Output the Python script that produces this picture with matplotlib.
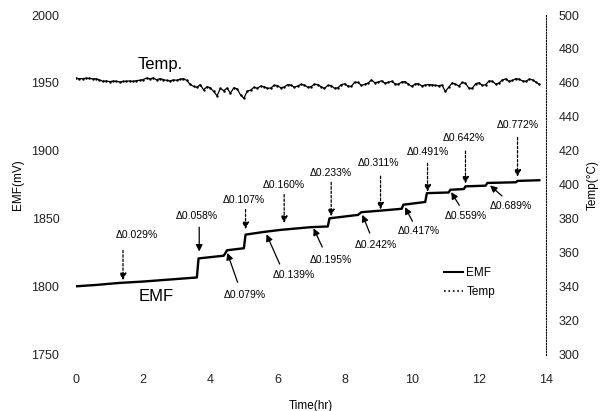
import matplotlib
matplotlib.use("Agg")
import matplotlib.pyplot as plt
from matplotlib.lines import Line2D

plt.rcParams["font.family"] = ["Liberation Sans", "DejaVu Sans"]

# EMF trace (mV); repeated-looking times give the jumps after each addition
emf_time = [0.0, 0.6, 1.3, 2.0, 2.8, 3.6, 3.65, 4.4, 4.5, 5.0, 5.05, 5.6,
            6.1, 7.0, 7.5, 7.55, 8.4, 8.5, 9.0, 9.7, 9.75, 10.4, 10.45,
            11.1, 11.15, 11.55, 11.6, 12.2, 12.25, 13.1, 13.15, 13.8]
emf_mv = [1800.5, 1801.5, 1803, 1804, 1805.5, 1807, 1821, 1823, 1827,
          1828.5, 1838.5, 1840.5, 1842, 1844, 1844.5, 1850.5, 1853, 1855,
          1856, 1857.5, 1860.5, 1862.5, 1869, 1869.5, 1871.5, 1872, 1874,
          1874.5, 1876.5, 1877, 1878, 1878.5]

# temperature trace (deg C), read every 0.1 hr
temp_time = [0.0, 0.1, 0.2, 0.3, 0.4, 0.5, 0.6, 0.7, 0.8, 0.9, 1.0, 1.1,
             1.2, 1.3, 1.4, 1.5, 1.6, 1.7, 1.8, 1.9, 2.0, 2.1, 2.2, 2.3,
             2.4, 2.5, 2.6, 2.7, 2.8, 2.9, 3.0, 3.1, 3.2, 3.3, 3.4, 3.5,
             3.6, 3.7, 3.8, 3.9, 4.0, 4.1, 4.2, 4.3, 4.4, 4.5, 4.6, 4.7,
             4.8, 4.9, 5.0, 5.1, 5.2, 5.3, 5.4, 5.5, 5.6, 5.7, 5.8, 5.9,
             6.0, 6.1, 6.2, 6.3, 6.4, 6.5, 6.6, 6.7, 6.8, 6.9, 7.0, 7.1,
             7.2, 7.3, 7.4, 7.5, 7.6, 7.7, 7.8, 7.9, 8.0, 8.1, 8.2, 8.3,
             8.4, 8.5, 8.6, 8.7, 8.8, 8.9, 9.0, 9.1, 9.2, 9.3, 9.4, 9.5,
             9.6, 9.7, 9.8, 9.9, 10.0, 10.1, 10.2, 10.3, 10.4, 10.5, 10.6,
             10.7, 10.8, 10.9, 11.0, 11.1, 11.2, 11.3, 11.4, 11.5, 11.6,
             11.7, 11.8, 11.9, 12.0, 12.1, 12.2, 12.3, 12.4, 12.5, 12.6,
             12.7, 12.8, 12.9, 13.0, 13.1, 13.2, 13.3, 13.4, 13.5, 13.6,
             13.7, 13.8]
temp_c = [462.8, 462.5, 462.6, 462.8, 462.7, 462.4, 462.5, 461.8, 461.0,
          461.2, 460.8, 461.1, 461.0, 460.6, 460.9, 461.0, 461.2, 460.9,
          461.4, 461.6, 462.0, 462.9, 462.4, 463.0, 461.8, 462.6, 462.0,
          461.5, 461.2, 461.8, 461.6, 462.2, 462.6, 461.5, 459.2, 458.0,
          457.5, 459.0, 456.0, 457.8, 457.2, 455.0, 452.5, 456.8, 455.5,
          457.0, 454.0, 457.2, 456.5, 453.0, 451.0, 455.2, 455.8, 457.5,
          456.9, 458.2, 457.8, 456.9, 457.0, 458.6, 458.5, 457.2, 457.6,
          459.0, 458.9, 457.5, 458.2, 459.2, 458.8, 457.6, 457.8, 459.3,
          459.0, 457.8, 456.8, 458.6, 458.5, 456.9, 457.2, 459.0, 459.5,
          458.2, 458.0, 460.5, 460.3, 458.6, 459.2, 460.0, 461.8, 460.2,
          460.5, 461.3, 459.9, 460.4, 461.0, 459.5, 459.2, 460.6, 460.8,
          459.3, 458.0, 459.4, 459.6, 458.3, 458.8, 459.1, 458.9, 458.6,
          458.4, 458.8, 455.0, 457.5, 460.0, 459.4, 458.2, 460.3, 459.8,
          457.0, 456.8, 459.5, 460.2, 458.6, 459.0, 461.2, 461.0, 459.4,
          460.0, 461.8, 462.4, 460.9, 461.5, 462.6, 462.2, 461.2, 461.0,
          462.3, 461.8, 460.5, 459.2]

# additions marked from above: label, arrow x, label pos, arrow start/end (mV)
top_labels = ["Δ0.029%", "Δ0.058%", "Δ0.107%", "Δ0.160%", "Δ0.233%",
              "Δ0.311%", "Δ0.491%", "Δ0.642%", "Δ0.772%"]
top_x = [1.4, 3.67, 5.05, 6.2, 7.6, 9.07, 10.47, 11.6, 13.15]
top_text_x = [1.82, 3.6, 5.0, 6.2, 7.6, 9.0, 10.47, 11.56, 13.15]
top_text_y = [1838.5, 1852, 1864, 1875, 1883.7, 1891, 1899.6, 1909.5, 1919]
top_y0 = [1829, 1846, 1859, 1870, 1879, 1883.5, 1893, 1902, 1912]
top_y1 = [1803, 1824, 1840.5, 1845, 1850, 1855, 1868, 1874, 1879]
top_dashed = [True, False, True, True, True, True, True, True, True]

# additions marked from below
bot_labels = ["Δ0.079%", "Δ0.139%", "Δ0.195%", "Δ0.242%", "Δ0.417%",
              "Δ0.559%", "Δ0.689%"]
bot_text_x = [5.04, 6.5, 7.6, 8.93, 10.2, 11.6, 12.95]
bot_text_y = [1794.4, 1808.6, 1820, 1831, 1841, 1852, 1859.8]
bot_x0 = [4.84, 6.1, 7.37, 8.78, 10.06, 11.46, 12.75]
bot_y0 = [1801.5, 1815, 1827.5, 1837.7, 1846.5, 1858.3, 1865.6]
bot_x1 = [4.48, 5.64, 7.04, 8.5, 9.76, 11.13, 12.27]
bot_y1 = [1827, 1840.6, 1845, 1855, 1860.5, 1871.5, 1876]

fig = plt.figure(figsize=(6.05, 4.11), dpi=100)
ax = fig.add_axes([0.1256, 0.1363, 0.777, 0.8272])
ax2 = ax.twinx()

ax.plot(emf_time, emf_mv, color="black", lw=1.7)
ax2.plot(temp_time, temp_c, color="black", lw=0.9, marker=".", ms=1.5)

ax.set_xlim(0, 14)
ax.set_ylim(1750, 2000)
ax2.set_ylim(300, 500)
ax.set_xticks([0, 2, 4, 6, 8, 10, 12, 14])
ax.set_yticks([1750, 1800, 1850, 1900, 1950, 2000])
ax2.set_yticks([300, 320, 340, 360, 380, 400, 420, 440, 460, 480, 500])

for a in (ax, ax2):
    for s in a.spines.values():
        s.set_visible(False)
ax2.spines["right"].set_visible(True)
ax2.spines["right"].set_linestyle((0, (1, 1.5)))
ax2.spines["right"].set_linewidth(0.8)

ax.tick_params(axis="both", length=0, labelsize=9, colors="#222222")
ax.tick_params(axis="x", pad=14)
ax.tick_params(axis="y", pad=12)
ax2.tick_params(axis="y", length=0, labelsize=9, colors="#222222", pad=9)

ax.set_xlabel("Time(hr)", fontsize=8.5, labelpad=10)
ax.set_ylabel("EMF(mV)", fontsize=8.5, labelpad=5)
ax2.set_ylabel("Temp(°C)", fontsize=8.5, labelpad=5)

for lab, x, tx, ty, y0, y1, dsh in zip(top_labels, top_x, top_text_x,
                                       top_text_y, top_y0, top_y1, top_dashed):
    ax.text(tx, ty, lab, fontsize=7.5, ha="center", va="center")
    ax.annotate("", xy=(x, y1), xytext=(x, y0),
                arrowprops=dict(arrowstyle="-|>", color="black", lw=0.9,
                                linestyle=(0, (2, 1.5)) if dsh else "-",
                                mutation_scale=10))

for lab, tx, ty, x0, y0, x1, y1 in zip(bot_labels, bot_text_x, bot_text_y,
                                       bot_x0, bot_y0, bot_x1, bot_y1):
    ax.text(tx, ty, lab, fontsize=7.5, ha="center", va="center")
    ax.annotate("", xy=(x1, y1), xytext=(x0, y0),
                arrowprops=dict(arrowstyle="-|>", color="black", lw=0.9,
                                mutation_scale=10))

ax.text(2.5, 1963.4, "Temp.", fontsize=12, ha="center", va="center")
ax.text(2.4, 1793, "EMF", fontsize=12, ha="center", va="center")

handles = [Line2D([], [], color="black", lw=1.5),
           Line2D([], [], color="black", lw=1.2, linestyle=":")]
ax.legend(handles, ["EMF", "Temp"], loc="upper left",
          bbox_to_anchor=(0.76, 0.29), frameon=False, fontsize=8.5,
          handlelength=1.6, handletextpad=0.3, labelspacing=0.6)

fig.savefig("out.png", dpi=100)
